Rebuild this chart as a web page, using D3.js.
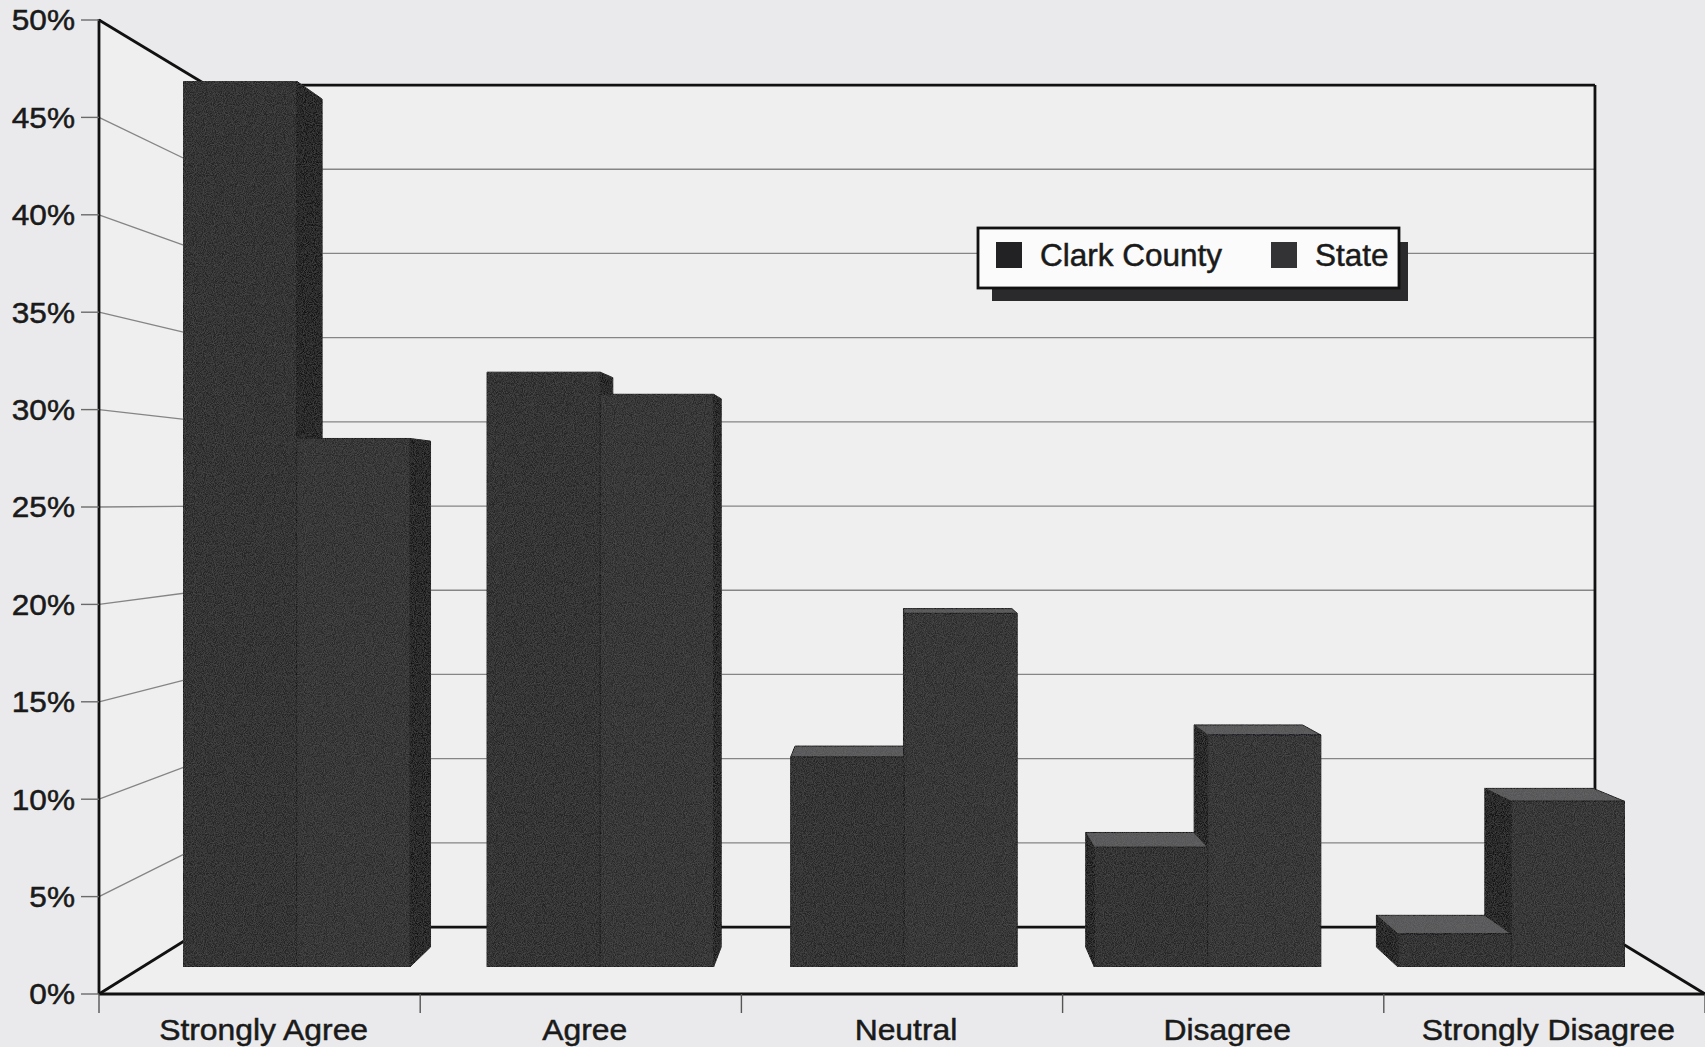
<!DOCTYPE html>
<html><head><meta charset="utf-8">
<script src="https://cdn.jsdelivr.net/npm/d3@7"></script>
<style>html,body{margin:0;padding:0;background:#eaeaec;} svg{display:block;}</style>
</head><body>
<svg id="chart" width="1705" height="1047"></svg>
<script>
// ---- data ----
const categories = ["Strongly Agree", "Agree", "Neutral", "Disagree", "Strongly Disagree"];
const seriesNames = ["Clark County", "State"];
const clarkValues = [48.1, 32.3, 11.4, 6.5, 1.8];
const stateValues = [28.7, 31.1, 19.2, 12.6, 9.0];
const yTickValues = [0, 5, 10, 15, 20, 25, 30, 35, 40, 45, 50];
const yTickLabels = ["0%", "5%", "10%", "15%", "20%", "25%", "30%", "35%", "40%", "45%", "50%"];

// ---- layout ----
const svg = d3.select("#chart");
const FONT = "'Liberation Sans', Arial, Helvetica, sans-serif";
const x0 = d3.scaleBand().domain(categories).range([99, 1705]);
const bw = x0.bandwidth();
const x1 = d3.scaleBand().domain(seriesNames).range([0.135 * bw, 0.881 * bw]);
const y = d3.scaleLinear().domain([0, 50]).range([994, 20]);
const VP = { x: 893, y: 500 };
const S_WALL = 0.8645, S_FRONT = 0.9453, S_BACK = 0.905;
const P = (X, Y, s) => [VP.x + s * (X - VP.x), VP.y + s * (Y - VP.y)];
const X_L = x0.range()[0], X_R = x0.range()[1];
const Y0 = y(0), Y50 = y(50);

const seriesColors = { "Clark County": "#262628", "State": "#2a2a2c" };

// background
svg.append("rect").attr("width", 1705).attr("height", 1047).attr("fill", "#eaeaec");

// walls fill
const poly = pts => pts.map(p => p.join(",")).join(" ");
svg.append("polygon").attr("fill", "#efeff0")
  .attr("points", poly([[X_L, Y50], P(X_L, Y50, S_WALL), P(X_R, Y50, S_WALL), P(X_R, Y0, S_WALL), [X_R, Y0], [X_L, Y0]]));

// gridlines
const gridG = svg.append("g").attr("stroke", "#858585").attr("stroke-width", 1.3).attr("fill", "none");
yTickValues.filter(v => v > 0 && v < 50).forEach(v => {
  const a = P(X_L, y(v), S_WALL), b = P(X_R, y(v), S_WALL);
  gridG.append("line").attr("x1", a[0]).attr("y1", a[1]).attr("x2", b[0]).attr("y2", b[1]);
  gridG.append("line").attr("x1", X_L).attr("y1", y(v)).attr("x2", a[0]).attr("y2", a[1]);
});

// wall outlines
const outG = svg.append("g").attr("stroke", "#111").attr("stroke-width", 2.8).attr("fill", "none");
const seg = (a, b) => outG.append("line").attr("x1", a[0]).attr("y1", a[1]).attr("x2", b[0]).attr("y2", b[1]);
seg([X_L, Y50], P(X_L, Y50, S_WALL));
seg(P(X_L, Y50, S_WALL), P(X_R, Y50, S_WALL));
seg(P(X_R, Y50, S_WALL), P(X_R, Y0, S_WALL));
seg(P(X_L, Y0, S_WALL), P(X_R, Y0, S_WALL));
seg([X_L, Y0], P(X_L, Y0, S_WALL));
seg([X_R, Y0], P(X_R, Y0, S_WALL));
seg(P(X_L, Y50, S_WALL), P(X_L, Y0, S_WALL));

// subtle grain for bars
const defs = svg.append("defs");
const f = defs.append("filter").attr("id", "grain").attr("x", 0).attr("y", 0).attr("width", 1).attr("height", 1);
f.append("feTurbulence").attr("type", "fractalNoise").attr("baseFrequency", 1.1).attr("numOctaves", 1).attr("seed", 3).attr("result", "n");
f.append("feColorMatrix").attr("in", "n").attr("type", "matrix")
  .attr("values", "0 0 0 0 0.45  0 0 0 0 0.45  0 0 0 0 0.45  0.25 0 0 0 -0.08").attr("result", "n2");
f.append("feComposite").attr("in", "n2").attr("in2", "SourceGraphic").attr("operator", "in").attr("result", "n3");
f.append("feMerge").call(m => { m.append("feMergeNode").attr("in", "SourceGraphic"); m.append("feMergeNode").attr("in", "n3"); });

// bars
const bars = [];
categories.forEach((c, i) => {
  [clarkValues[i], stateValues[i]].forEach((v, j) => {
    const s = seriesNames[j];
    const X0 = x0(c) + x1(s), X1 = X0 + x1.bandwidth();
    bars.push({ c, s, v, X0, X1, d: Math.abs((X0 + X1) / 2 - VP.x) });
  });
});
bars.sort((a, b) => b.d - a.d);
const barG = svg.append("g").attr("filter", "url(#grain)");
bars.forEach(b => {
  const g = barG.append("g").attr("stroke", "#141414").attr("stroke-width", 1).attr("stroke-linejoin", "round");
  const Yt = y(b.v), Yb = Y0;
  if (b.X1 < VP.x) {
    g.append("polygon").attr("fill", "#141415")
      .attr("points", poly([P(b.X1, Yt, S_FRONT), P(b.X1, Yt, S_BACK), P(b.X1, Yb, S_BACK), P(b.X1, Yb, S_FRONT)]));
  }
  if (b.X0 > VP.x) {
    g.append("polygon").attr("fill", "#141415")
      .attr("points", poly([P(b.X0, Yt, S_FRONT), P(b.X0, Yt, S_BACK), P(b.X0, Yb, S_BACK), P(b.X0, Yb, S_FRONT)]));
  }
  if (Yt > VP.y) {
    g.append("polygon").attr("fill", "#545456")
      .attr("points", poly([P(b.X0, Yt, S_FRONT), P(b.X1, Yt, S_FRONT), P(b.X1, Yt, S_BACK), P(b.X0, Yt, S_BACK)]));
  }
  g.append("polygon").attr("fill", seriesColors[b.s])
    .attr("points", poly([P(b.X0, Yt, S_FRONT), P(b.X1, Yt, S_FRONT), P(b.X1, Yb, S_FRONT), P(b.X0, Yb, S_FRONT)]));
});

// front axes
const axG = svg.append("g");
axG.append("line").attr("x1", X_L).attr("y1", Y50 - 1).attr("x2", X_L).attr("y2", Y0).attr("stroke", "#111").attr("stroke-width", 2.8);
axG.append("line").attr("x1", X_L).attr("y1", Y0).attr("x2", X_R).attr("y2", Y0).attr("stroke", "#111").attr("stroke-width", 3);

// y ticks + labels
yTickValues.forEach((v, i) => {
  axG.append("line").attr("x1", 81).attr("x2", X_L).attr("y1", y(v)).attr("y2", y(v)).attr("stroke", "#6a6a6a").attr("stroke-width", 1.4);
  axG.append("text").attr("transform", `translate(75,${y(v)}) scale(1.09,1)`)
    .attr("text-anchor", "end").attr("dy", "0.36em")
    .attr("font-family", FONT).attr("font-size", 29).attr("fill", "#1a1a1a")
    .attr("stroke", "#1a1a1a").attr("stroke-width", 0.5).text(yTickLabels[i]);
});

// x ticks + labels
const xTicks = categories.map(c => x0(c)).concat([X_R]);
xTicks.forEach(t => {
  axG.append("line").attr("x1", t).attr("x2", t).attr("y1", Y0).attr("y2", Y0 + 19).attr("stroke", "#555").attr("stroke-width", 1.4);
});
categories.forEach(c => {
  axG.append("text").attr("transform", `translate(${x0(c) + bw / 2 + 4},1040) scale(1.08,1)`)
    .attr("text-anchor", "middle").attr("font-family", FONT).attr("font-size", 29.5).attr("fill", "#1a1a1a")
    .attr("stroke", "#1a1a1a").attr("stroke-width", 0.5).text(c);
});

// legend
const lg = svg.append("g");
lg.append("rect").attr("x", 992).attr("y", 242).attr("width", 416).attr("height", 59).attr("fill", "#2a2a2c");
lg.append("rect").attr("x", 978).attr("y", 228).attr("width", 421).attr("height", 60).attr("fill", "#fbfbfb").attr("stroke", "#111").attr("stroke-width", 2.8);
const legendX = [996, 1271];
seriesNames.forEach((s, i) => {
  lg.append("rect").attr("x", legendX[i]).attr("y", 242).attr("width", 26).attr("height", 26).attr("fill", i === 0 ? "#222224" : "#333335");
  lg.append("text").attr("x", legendX[i] + 44).attr("y", 266).attr("font-family", FONT).attr("font-size", 31.5).attr("fill", "#1a1a1a")
    .attr("stroke", "#1a1a1a").attr("stroke-width", 0.5).text(s);
});
</script>
</body></html>
